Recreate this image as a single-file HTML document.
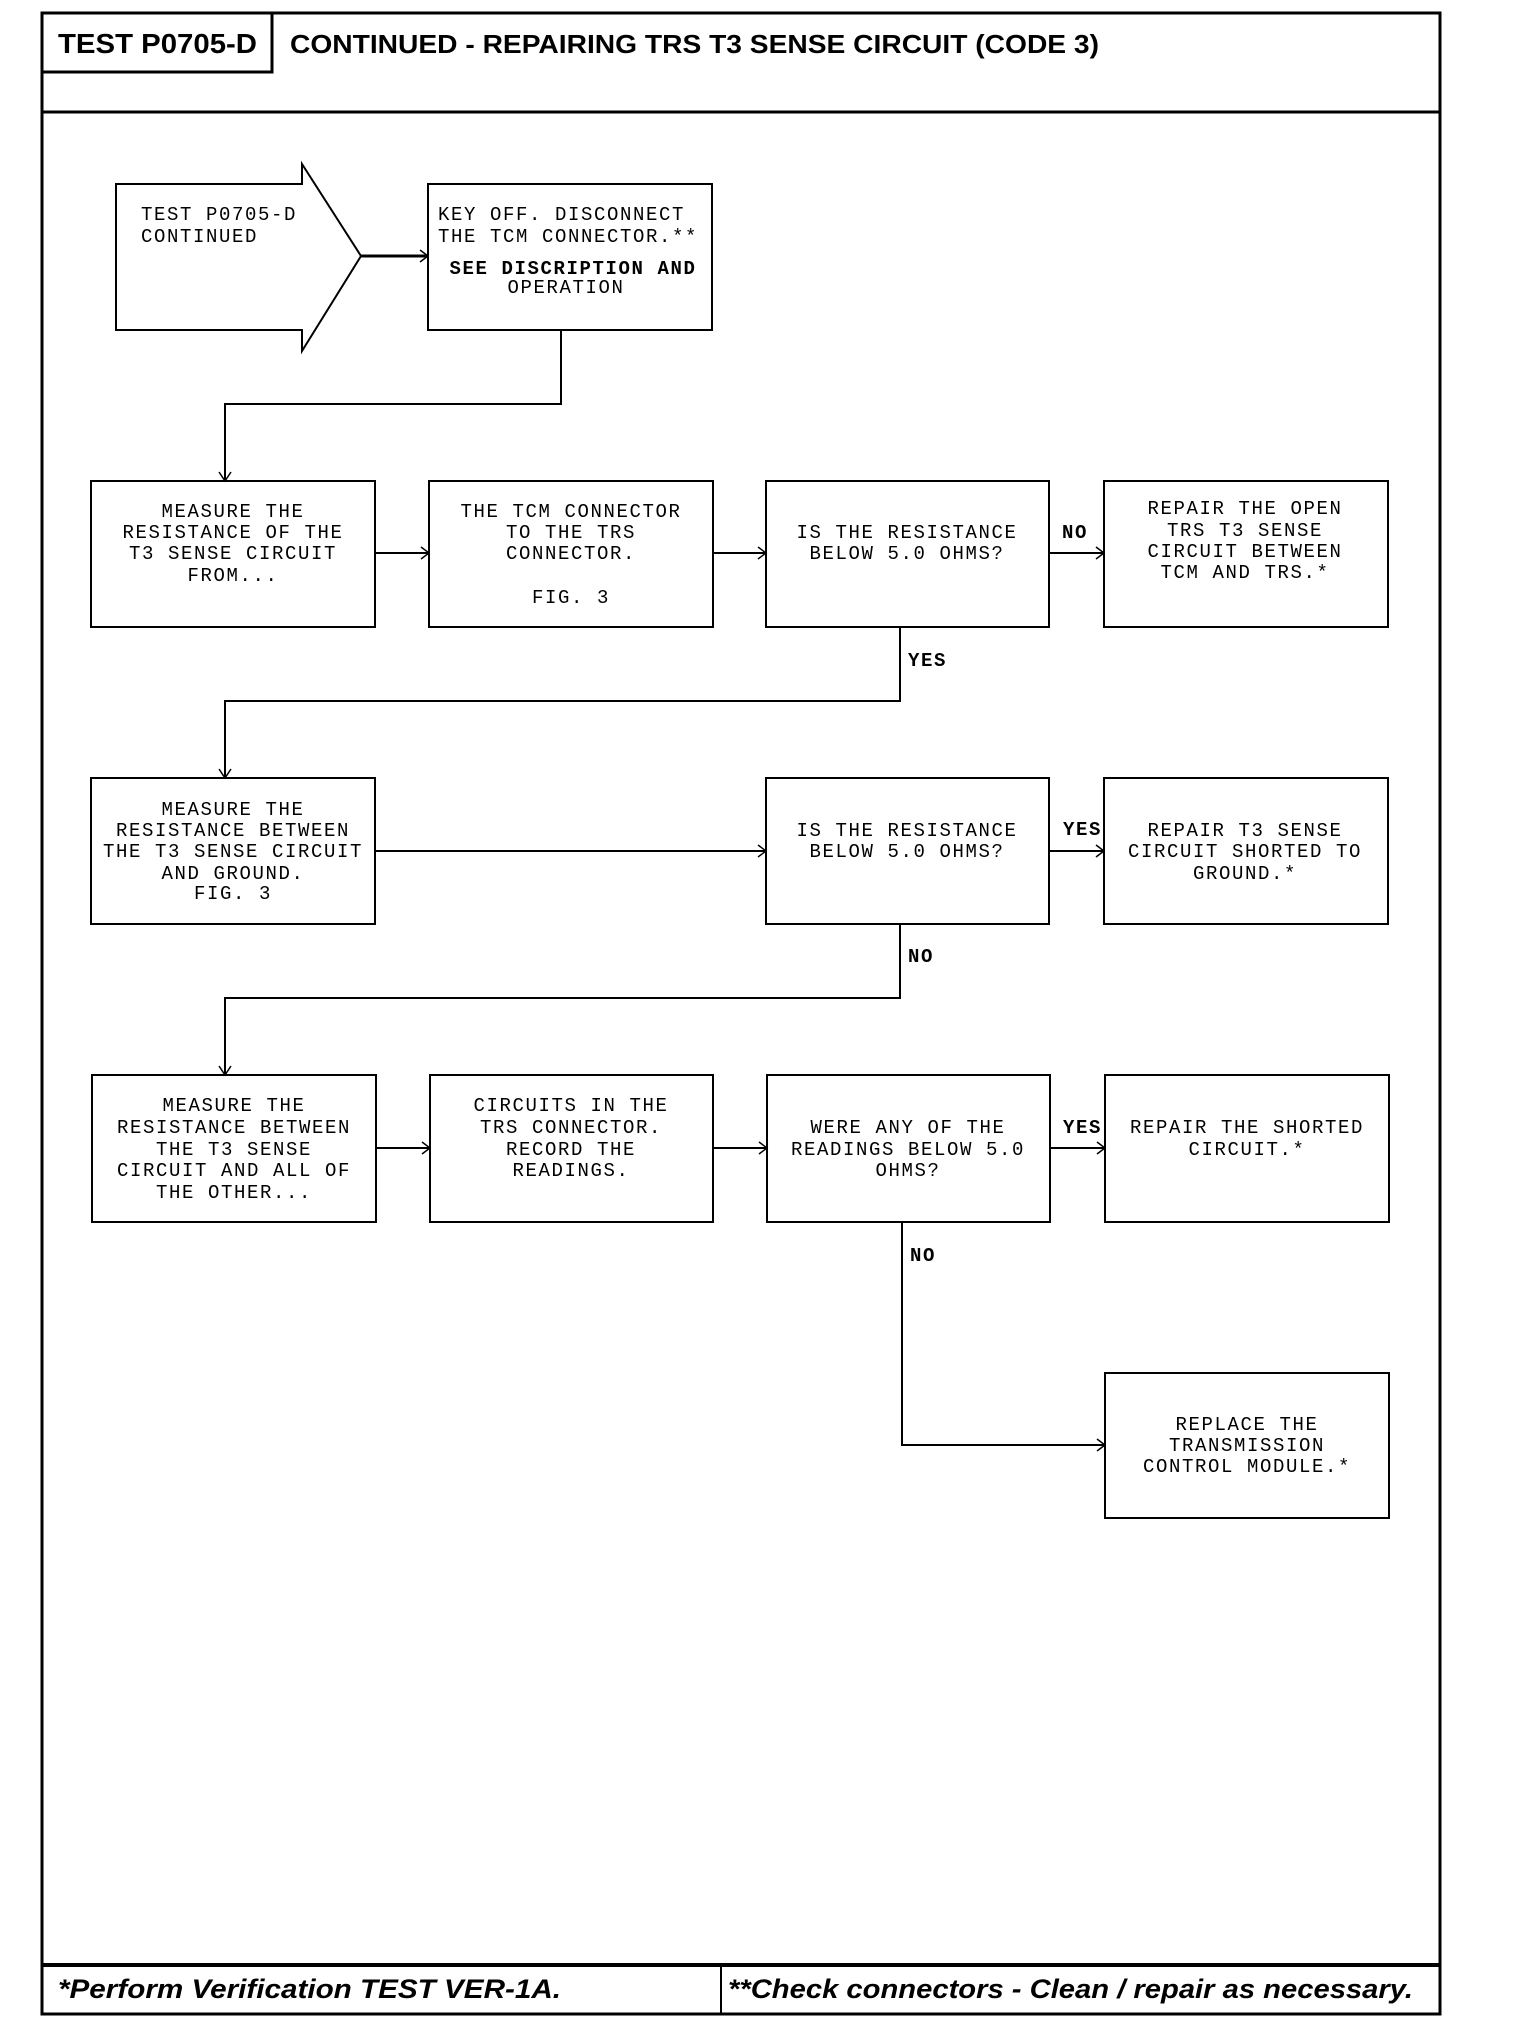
<!DOCTYPE html>
<html><head><meta charset="utf-8"><style>
html,body{margin:0;padding:0;background:#fff;}
svg{display:block;}
.t{font-family:"Liberation Mono",monospace;font-size:19px;letter-spacing:1.6px;fill:#000;}
.h{font-family:"Liberation Sans",sans-serif;font-weight:bold;fill:#000;}
.f{font-family:"Liberation Sans",sans-serif;font-weight:bold;font-style:italic;fill:#000;}
</style></head><body>
<svg width="1520" height="2032" viewBox="0 0 1520 2032" xmlns="http://www.w3.org/2000/svg">
<g fill="none" stroke="#000">
<rect x="42" y="13" width="1398" height="2001" stroke-width="3"/>
<line x1="42" y1="112" x2="1440" y2="112" stroke-width="3"/>
<rect x="42" y="13" width="230" height="59" stroke-width="3"/>
<line x1="42" y1="1965" x2="1440" y2="1965" stroke-width="4"/>
<line x1="721" y1="1965" x2="721" y2="2014" stroke-width="2"/>
<polygon points="116,184 302,184 302,164 361,256 302,351 302,330 116,330" stroke-width="2"/>
<g stroke-width="2">
<rect x="428" y="184" width="284" height="146"/>
<rect x="91" y="481" width="284" height="146"/>
<rect x="429" y="481" width="284" height="146"/>
<rect x="766" y="481" width="283" height="146"/>
<rect x="1104" y="481" width="284" height="146"/>
<rect x="91" y="778" width="284" height="146"/>
<rect x="766" y="778" width="283" height="146"/>
<rect x="1104" y="778" width="284" height="146"/>
<rect x="92" y="1075" width="284" height="147"/>
<rect x="430" y="1075" width="283" height="147"/>
<rect x="767" y="1075" width="283" height="147"/>
<rect x="1105" y="1075" width="284" height="147"/>
<rect x="1105" y="1373" width="284" height="145"/>
</g>
<g stroke-width="2">
<line x1="361" y1="256" x2="428" y2="256" stroke-width="3"/>
<polyline points="561,330 561,404 225,404 225,481"/>
<line x1="375" y1="553" x2="429" y2="553"/>
<line x1="713" y1="553" x2="766" y2="553"/>
<line x1="1049" y1="553" x2="1104" y2="553"/>
<polyline points="900,627 900,701 225,701 225,778"/>
<line x1="375" y1="851" x2="766" y2="851"/>
<line x1="1049" y1="851" x2="1104" y2="851"/>
<polyline points="900,924 900,998 225,998 225,1075"/>
<line x1="376" y1="1148" x2="430" y2="1148"/>
<line x1="713" y1="1148" x2="767" y2="1148"/>
<line x1="1050" y1="1148" x2="1105" y2="1148"/>
<polyline points="902,1222 902,1445 1105,1445"/>
</g>
<g stroke-width="1.5">
<polyline points="420,250 428,256 420,262"/>
<polyline points="219,472 225,481 231,472"/>
<polyline points="421,547 429,553 421,559"/>
<polyline points="758,547 766,553 758,559"/>
<polyline points="1096,547 1104,553 1096,559"/>
<polyline points="219,769 225,778 231,769"/>
<polyline points="758,845 766,851 758,857"/>
<polyline points="1096,845 1104,851 1096,857"/>
<polyline points="219,1066 225,1075 231,1066"/>
<polyline points="422,1142 430,1148 422,1154"/>
<polyline points="759,1142 767,1148 759,1154"/>
<polyline points="1097,1142 1105,1148 1097,1154"/>
<polyline points="1097,1439 1105,1445 1097,1451"/>
</g>
</g>
<text class="h" x="58" y="53" font-size="28" textLength="199" lengthAdjust="spacingAndGlyphs">TEST P0705-D</text>
<text class="h" x="290" y="53" font-size="26" textLength="809" lengthAdjust="spacingAndGlyphs">CONTINUED - REPAIRING TRS T3 SENSE CIRCUIT (CODE 3)</text>
<text class="f" x="58" y="1998" font-size="27" textLength="503" lengthAdjust="spacingAndGlyphs">*Perform Verification TEST VER-1A.</text>
<text class="f" x="728" y="1998" font-size="27" textLength="685" lengthAdjust="spacingAndGlyphs">**Check connectors - Clean / repair as necessary.</text>
<g class="t">
<text x="141" y="220">TEST P0705-D</text>
<text x="141" y="242">CONTINUED</text>
<text x="438" y="220">KEY OFF. DISCONNECT</text>
<text x="438" y="242">THE TCM CONNECTOR.**</text>
</g>
<g class="t" text-anchor="middle">
<text x="573" y="274" font-weight="bold">SEE DISCRIPTION AND</text>
<text x="566" y="293">OPERATION</text>

<text x="233" y="517">MEASURE THE</text>
<text x="233" y="538">RESISTANCE OF THE</text>
<text x="233" y="559">T3 SENSE CIRCUIT</text>
<text x="233" y="581">FROM...</text>

<text x="571" y="517">THE TCM CONNECTOR</text>
<text x="571" y="538">TO THE TRS</text>
<text x="571" y="559">CONNECTOR.</text>
<text x="571" y="603">FIG. 3</text>

<text x="907" y="538">IS THE RESISTANCE</text>
<text x="907" y="559">BELOW 5.0 OHMS?</text>

<text x="1245" y="514">REPAIR THE OPEN</text>
<text x="1245" y="536">TRS T3 SENSE</text>
<text x="1245" y="557">CIRCUIT BETWEEN</text>
<text x="1245" y="578">TCM AND TRS.*</text>

<text x="233" y="815">MEASURE THE</text>
<text x="233" y="836">RESISTANCE BETWEEN</text>
<text x="233" y="857">THE T3 SENSE CIRCUIT</text>
<text x="233" y="879">AND GROUND.</text>
<text x="233" y="899">FIG. 3</text>

<text x="907" y="836">IS THE RESISTANCE</text>
<text x="907" y="857">BELOW 5.0 OHMS?</text>

<text x="1245" y="836">REPAIR T3 SENSE</text>
<text x="1245" y="857">CIRCUIT SHORTED TO</text>
<text x="1245" y="879">GROUND.*</text>

<text x="234" y="1111">MEASURE THE</text>
<text x="234" y="1133">RESISTANCE BETWEEN</text>
<text x="234" y="1155">THE T3 SENSE</text>
<text x="234" y="1176">CIRCUIT AND ALL OF</text>
<text x="234" y="1198">THE OTHER...</text>

<text x="571" y="1111">CIRCUITS IN THE</text>
<text x="571" y="1133">TRS CONNECTOR.</text>
<text x="571" y="1155">RECORD THE</text>
<text x="571" y="1176">READINGS.</text>

<text x="908" y="1133">WERE ANY OF THE</text>
<text x="908" y="1155">READINGS BELOW 5.0</text>
<text x="908" y="1176">OHMS?</text>

<text x="1247" y="1133">REPAIR THE SHORTED</text>
<text x="1247" y="1155">CIRCUIT.*</text>

<text x="1247" y="1430">REPLACE THE</text>
<text x="1247" y="1451">TRANSMISSION</text>
<text x="1247" y="1472">CONTROL MODULE.*</text>
</g>
<g class="t" font-weight="bold">
<text x="1062" y="538">NO</text>
<text x="908" y="666">YES</text>
<text x="1063" y="835">YES</text>
<text x="908" y="962">NO</text>
<text x="1063" y="1133">YES</text>
<text x="910" y="1261">NO</text>
</g>
</svg>
</body></html>
